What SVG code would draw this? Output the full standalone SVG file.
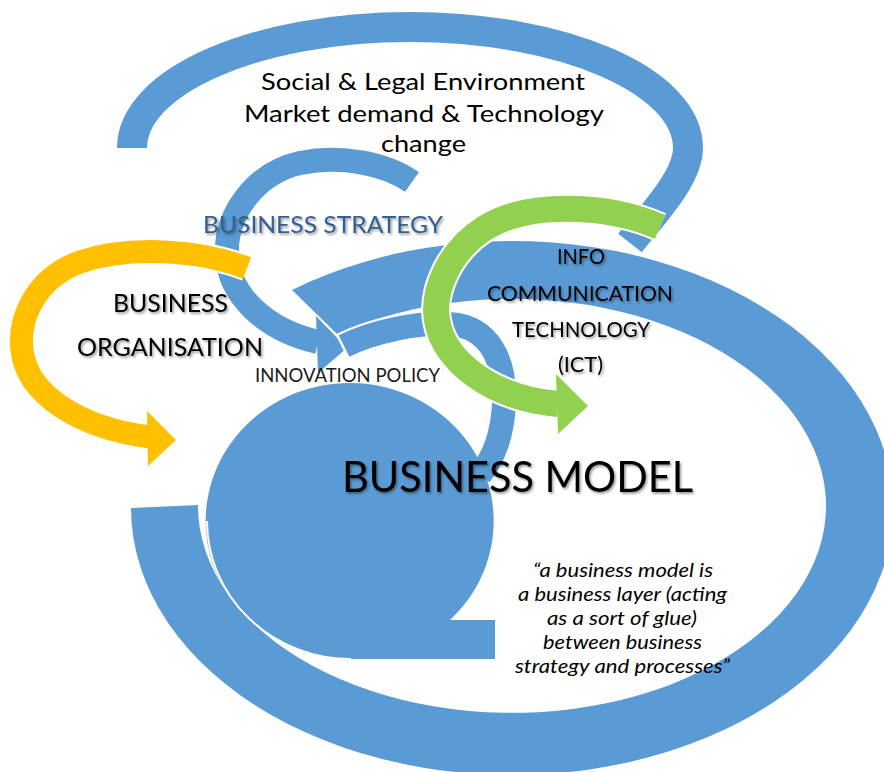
<svg xmlns="http://www.w3.org/2000/svg" width="884" height="772" viewBox="0 0 884 772">
<defs>
<style>
.blue{fill:#5B9BD5}
.bs{fill:none;stroke:#5B9BD5;stroke-linecap:butt}
.ws{fill:none;stroke:#FFFFFF;stroke-linecap:butt}
.gs{fill:none;stroke:#92D050;stroke-linecap:butt}
.os{fill:none;stroke:#FFC000;stroke-linecap:butt}
.t{font-family:Lato,"Open Sans","Liberation Sans",sans-serif;fill:#000}
.sh{filter:url(#ts)}
</style>
<filter id="ts" x="-10%" y="-30%" width="120%" height="170%">
<feDropShadow dx="1.5" dy="1.8" stdDeviation="1.2" flood-color="#000" flood-opacity="0.4"/>
</filter>
</defs>
<rect width="884" height="772" fill="#FFFFFF"/>

<g id="connectors">
  <!-- business strategy arrow -->
  <g id="arrow-strategy">
    <path class="bs" stroke-width="24" d="M412,182 C385,163 340,155 300,163 C255,173 225,215 227,255 C229,295 265,330 318,342"/>
    <polygon class="blue" points="316,316 347,348 318,373"/>
  </g>
  <!-- business model loop -->
  <path id="arrow-model-loop" class="blue" d="M131,508 A381,267 0 1 0 292,290 L337,334 A314,207 0 1 1 198,505 Z"/>
  <!-- environment arc -->
  <g id="arrow-environment">
    <path class="ws" stroke-width="34" d="M132,148 C132,81 256.5,27 410,27 C563.5,27 688,81 688,148 C688,178 652,215 630,243"/>
    <path class="bs" stroke-width="30" d="M132,148 C132,81 256.5,27 410,27 C563.5,27 688,81 688,148 C688,178 652,215 630,243"/>
  </g>
  <!-- innovation policy band -->
  <g id="arrow-innovation">
    <path class="ws" stroke-width="28" d="M341.8,347.1 L344,346 C370,333 420,320 458,325 C495,332 506,370 504,405 C502,435 495,455 480,475"/>
    <path class="bs" stroke-width="24" d="M344,346 C370,333 420,320 458,325 C495,332 506,370 504,405 C502,435 495,455 480,475"/>
  </g>
  <!-- ICT green arrow -->
  <g id="arrow-ict">
    <path class="ws" stroke-width="30" d="M660,227 C610,205 530,200 485,228 C450,250 432,290 437,320 C443,360 490,398 558,404"/>
    <polygon points="556,374 588,406 558,434" fill="#FFFFFF" stroke="#FFFFFF" stroke-width="4"/>
    <path class="gs" stroke-width="26" d="M660,227 C610,205 530,200 485,228 C450,250 432,290 437,320 C443,360 490,398 558,404"/>
    <polygon points="556,374 588,406 558,434" fill="#92D050"/>
  </g>
  <!-- organisation orange arrow -->
  <g id="arrow-organisation">
    <path class="ws" stroke-width="27" d="M247,268 C200,250 130,245 80,262 C35,278 18,320 22,350 C27,395 80,428 150,437"/>
    <path class="os" stroke-width="23" d="M247,268 C200,250 130,245 80,262 C35,278 18,320 22,350 C27,395 80,428 150,437"/>
    <polygon points="147,411 176,440 148,466" fill="#FFC000"/>
  </g>
</g>

<g id="node-environment">
  <text class="t" font-size="24" x="261" y="90" textLength="324" lengthAdjust="spacingAndGlyphs">Social &amp; Legal Environment</text>
  <text class="t" font-size="24" x="244" y="122" textLength="360" lengthAdjust="spacingAndGlyphs">Market demand &amp; Technology</text>
  <text class="t" font-size="24" x="381" y="152" textLength="85" lengthAdjust="spacingAndGlyphs">change</text>
</g>

<g id="node-strategy">
  <text class="t sh" font-size="24" x="203" y="233" textLength="240" lengthAdjust="spacingAndGlyphs" style="fill:#325F8E">BUSINESS STRATEGY</text>
</g>

<g id="node-organisation">
  <text class="t sh" font-size="25" x="113" y="312" textLength="115" lengthAdjust="spacingAndGlyphs">BUSINESS</text>
  <text class="t sh" font-size="25" x="77" y="356" textLength="186" lengthAdjust="spacingAndGlyphs">ORGANISATION</text>
</g>

<g id="node-innovation">
  <text class="t" font-size="20" x="255" y="382" textLength="185" lengthAdjust="spacingAndGlyphs" style="fill:#1A1A1A">INNOVATION POLICY</text>
</g>

<g id="node-ict">
  <text class="t sh" font-size="22" x="557" y="264" textLength="48" lengthAdjust="spacingAndGlyphs">INFO</text>
  <text class="t sh" font-size="22" x="487" y="301" textLength="186" lengthAdjust="spacingAndGlyphs">COMMUNICATION</text>
  <text class="t sh" font-size="22" x="512" y="337" textLength="138" lengthAdjust="spacingAndGlyphs">TECHNOLOGY</text>
  <text class="t sh" font-size="22" x="558" y="372" textLength="45" lengthAdjust="spacingAndGlyphs">(ICT)</text>
</g>

<g id="node-business-model">
  <path class="blue" d="M351,659 L495,659 L495,620 L450,620 A144,138 0 1 0 351,659 Z"/>
  <path d="M207,521 A144,138 0 0 0 351,659" fill="none" stroke="#FFFFFF" stroke-width="2"/>
  <text class="t sh" font-size="42" x="342" y="492" textLength="351" lengthAdjust="spacingAndGlyphs">BUSINESS MODEL</text>
  <g font-style="italic">
    <text class="t" font-size="19" x="533" y="577" textLength="180" lengthAdjust="spacingAndGlyphs">“a business model is</text>
    <text class="t" font-size="19" x="518" y="601" textLength="209" lengthAdjust="spacingAndGlyphs">a business layer (acting</text>
    <text class="t" font-size="19" x="547" y="625" textLength="150" lengthAdjust="spacingAndGlyphs">as a sort of glue)</text>
    <text class="t" font-size="19" x="543" y="649" textLength="159" lengthAdjust="spacingAndGlyphs">between business</text>
    <text class="t" font-size="19" x="515" y="673" textLength="215" lengthAdjust="spacingAndGlyphs">strategy and processes”</text>
  </g>
</g>
</svg>
